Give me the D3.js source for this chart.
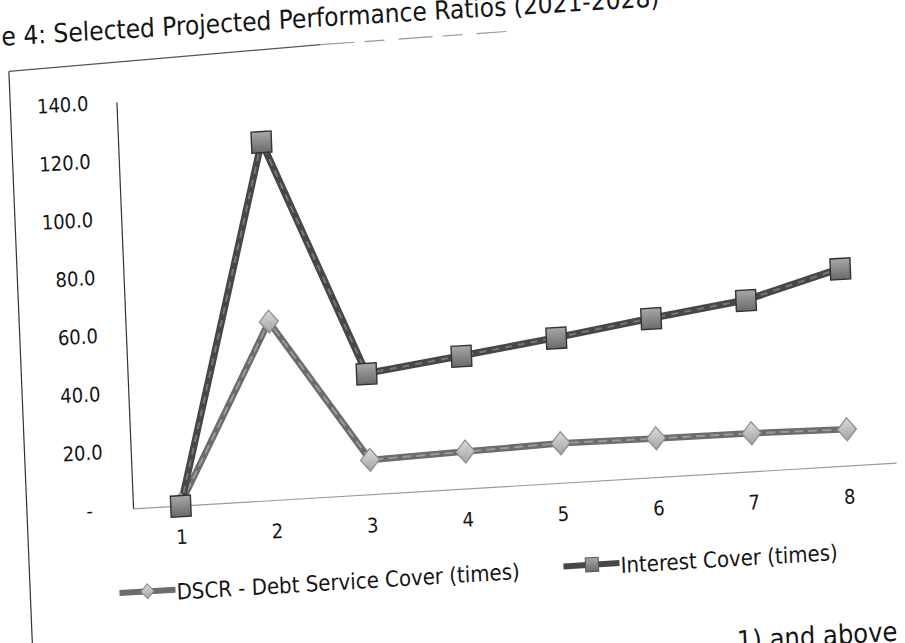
<!DOCTYPE html>
<html lang="en">
<head>
<meta charset="utf-8">
<title>Selected Projected Performance Ratios (2021-2028)</title>
<script src="https://d3js.org/d3.v7.min.js"></script>
<style>
  body { margin: 0; background: #fff; }
  text { font-family: "DejaVu Sans Condensed", "DejaVu Sans", sans-serif; fill: #151515; }
</style>
</head>
<body>
<div id="chart"></div>
<script>
// data
const categories = ["1", "2", "3", "4", "5", "6", "7", "8"];
const dscrValues = [0.5, 61.4, 11.8, 12.7, 13.6, 13.3, 13.1, 12.5];
const interestValues = [0, 123.4, 41.6, 45.7, 50.0, 54.7, 59.0, 67.9];
const yTickValues = [0, 20, 40, 60, 80, 100, 120, 140];
const seriesNames = ["DSCR - Debt Service Cover (times)", "Interest Cover (times)"];
const titleText = "e 4: Selected Projected Performance Ratios (2021-2028)";
const noteText = "1) and above";

let width = 905, height = 643;
let plotW = 763, plotH = 405;

let svg = d3.select("#chart").append("svg")
  .attr("width", width)
  .attr("height", height);

let defs = svg.append("defs");
let sqGrad = defs.append("linearGradient").attr("id", "sqGrad")
  .attr("x1", 0).attr("y1", 0).attr("x2", 0).attr("y2", 1);
sqGrad.append("stop").attr("offset", "0%").attr("stop-color", "#a8a8a8");
sqGrad.append("stop").attr("offset", "100%").attr("stop-color", "#6a6a6a");
let dmGrad = defs.append("linearGradient").attr("id", "dmGrad")
  .attr("x1", 0).attr("y1", 0).attr("x2", 0).attr("y2", 1);
dmGrad.append("stop").attr("offset", "0%").attr("stop-color", "#dcdcdc");
dmGrad.append("stop").attr("offset", "100%").attr("stop-color", "#a2a2a2");

// the page was photographed at a tilt, so the whole chart sits in a skewed frame
let g = svg.append("g").attr("transform", "matrix(1,-0.06,0.041,1,133,507)");

let x = d3.scaleBand().domain(categories).range([0, plotW]);
let y = d3.scaleLinear().domain([0, 140]).range([1.5, -plotH]);
let cx = (d, i) => x(categories[i]) + x.bandwidth() / 2;

// chart border (left edge dark, top edge faint)
g.append("line")
  .attr("x1", -106).attr("y1", -442).attr("x2", -106).attr("y2", 200)
  .attr("stroke", "#333").attr("stroke-width", 1.2);
g.append("line")
  .attr("x1", -106).attr("y1", -442).attr("x2", 206).attr("y2", -450)
  .attr("stroke", "#555").attr("stroke-width", 1.2);
g.append("line")
  .attr("x1", 206).attr("y1", -450).attr("x2", 392).attr("y2", -452)
  .attr("stroke", "#999").attr("stroke-width", 1.2)
  .attr("stroke-dasharray", "34,10,20,14");

// title
g.append("text")
  .attr("x", -112).attr("y", -468)
  .attr("font-size", 26)
  .text(titleText);

// y axis
let yAxis = g.append("g")
  .call(d3.axisLeft(y)
    .tickValues(yTickValues)
    .tickSize(0)
    .tickPadding(28)
    .tickFormat(d => d === 0 ? "-" : d3.format(".1f")(d)));
yAxis.attr("font-size", 20).attr("font-family", null);
yAxis.select(".domain").attr("stroke", "#333").attr("stroke-width", 1.2);
yAxis.selectAll(".tick text").filter(d => d === 0).attr("x", -40);

// x axis
let xAxis = g.append("g")
  .attr("transform", `translate(0,${y(0)})`)
  .call(d3.axisBottom(x).tickSize(0).tickPadding(24));
xAxis.attr("font-size", 20).attr("font-family", null);
xAxis.select(".domain").attr("stroke", "#9a9a9a").attr("stroke-width", 1.2);

// series lines
let line = d3.line().x(cx).y(d => y(d));

g.append("path").datum(dscrValues)
  .attr("fill", "none").attr("stroke", "#6c6c6c").attr("stroke-width", 6.5)
  .attr("stroke-linejoin", "round").attr("d", line);
g.append("path").datum(dscrValues)
  .attr("fill", "none").attr("stroke", "#9a9a9a").attr("stroke-width", 2)
  .attr("stroke-dasharray", "9,5").attr("d", line);

g.append("path").datum(interestValues)
  .attr("fill", "none").attr("stroke", "#474747").attr("stroke-width", 7)
  .attr("stroke-linejoin", "round").attr("d", line);
g.append("path").datum(interestValues)
  .attr("fill", "none").attr("stroke", "#777").attr("stroke-width", 2)
  .attr("stroke-dasharray", "7,6").attr("d", line);

// markers
let diamond = (w, h) => `M0,${-h / 2}L${w / 2},0L0,${h / 2}L${-w / 2},0Z`;

g.selectAll(".dscr-pt").data(dscrValues).enter()
  .append("path")
  .attr("class", "dscr-pt")
  .attr("transform", (d, i) => `translate(${cx(d, i)},${y(d)})`)
  .attr("d", diamond(19, 23))
  .attr("fill", "url(#dmGrad)")
  .attr("stroke", "#8a8a8a").attr("stroke-width", 1.2);

g.selectAll(".int-pt").data(interestValues).enter()
  .append("rect")
  .attr("class", "int-pt")
  .attr("x", (d, i) => cx(d, i) - 10)
  .attr("y", d => y(d) - 10)
  .attr("width", 20).attr("height", 21)
  .attr("fill", "url(#sqGrad)")
  .attr("stroke", "#333").attr("stroke-width", 1.4);

// legend
let legend = g.append("g").attr("font-size", 22);
let legendX = [-17, 427];
let legendColors = ["#6c6c6c", "#474747"];
seriesNames.forEach((name, i) => {
  let lx = legendX[i];
  legend.append("line")
    .attr("x1", lx).attr("y1", 85).attr("x2", lx + 56).attr("y2", 85)
    .attr("stroke", legendColors[i]).attr("stroke-width", 6);
  if (i === 0) {
    legend.append("path")
      .attr("transform", `translate(${lx + 28},85)`)
      .attr("d", diamond(13, 15))
      .attr("fill", "url(#dmGrad)").attr("stroke", "#8a8a8a");
  } else {
    legend.append("rect")
      .attr("x", lx + 22).attr("y", 78).attr("width", 13).attr("height", 14)
      .attr("fill", "url(#sqGrad)").attr("stroke", "#555");
  }
  legend.append("text")
    .attr("x", lx + 57).attr("y", 95)
    .text(name);
});

// body text below the chart, cut by the page edge
g.append("text")
  .attr("x", 597).attr("y", 179)
  .attr("font-size", 27)
  .text(noteText);
</script>
</body>
</html>
